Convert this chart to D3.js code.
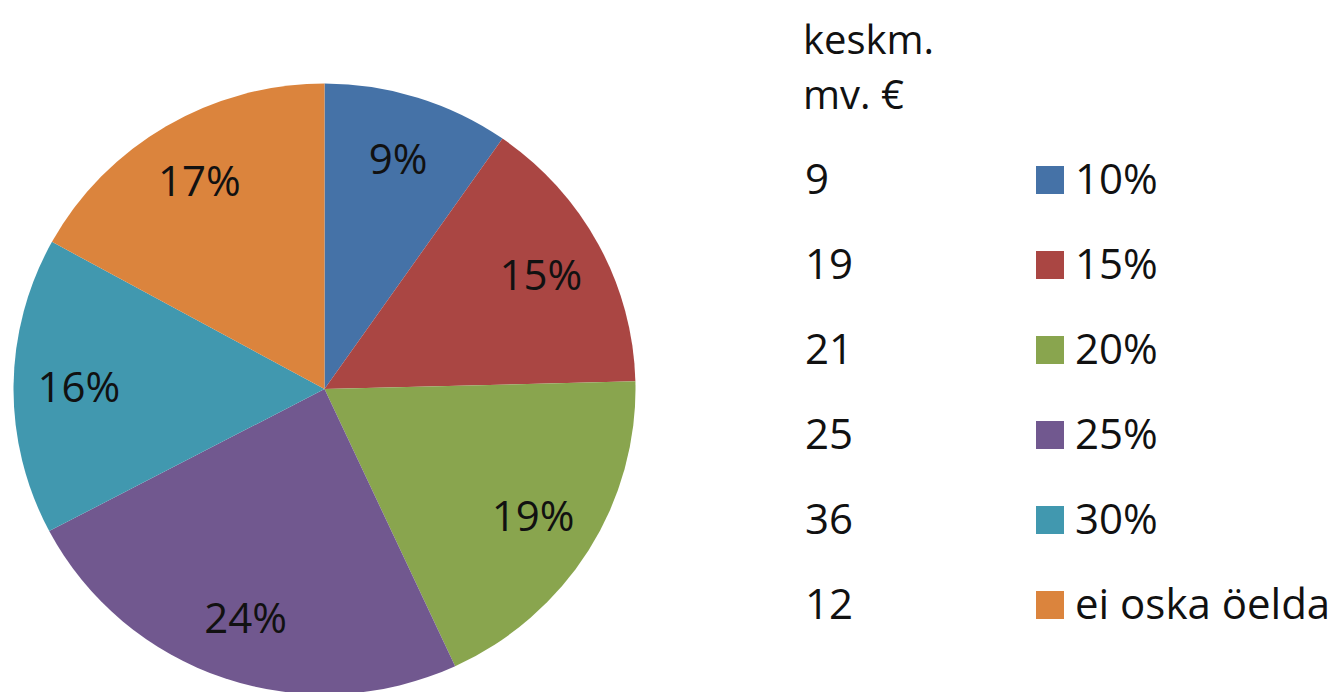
<!DOCTYPE html>
<meta charset="utf-8">
<style>
  body { margin: 0; background: #fff; }
  text { font-family: "Open Sans", sans-serif; fill: #111; font-size: 42px; }
  text.head { font-size: 40px; }
</style>
<svg width="1332" height="692"></svg>
<script src="https://d3js.org/d3.v7.min.js"></script>
<script>

  // slices, clockwise from 12 o'clock (shares)
  var categories = ["10%", "15%", "20%", "25%", "30%", "ei oska öelda"];
  var shares = [9.7, 14.9, 18.5, 24.2, 15.7, 17.0];
  var sliceLabels = ["9%", "15%", "19%", "24%", "16%", "17%"];
  var averages = ["9", "19", "21", "25", "36", "12"];
  var headerLines = ["keskm.", "mv. €"];

  var colors = ["#4572A7", "#AA4643", "#89A54E", "#71588F", "#4198AF", "#DB843D"];

  var svg = d3.select("svg");

  var r = 311;
  var color = d3.scaleOrdinal().domain(categories).range(colors);

  var pie = d3.pie().sort(null).value(function(d) { return d.v; });
  var data = pie(categories.map(function(c, i) {
    return { cat: c, v: shares[i], label: sliceLabels[i] };
  }));

  var arc = d3.arc().innerRadius(0).outerRadius(r);
  var labelArc = d3.arc().innerRadius(r * 0.79).outerRadius(r * 0.79);

  var g = svg.append("g")
    .attr("transform", "translate(324.5,389) scale(1,0.982)");

  g.selectAll("path")
    .data(data)
    .enter().append("path")
    .attr("d", arc)
    .attr("fill", function(d) { return color(d.data.cat); });

  var labels = svg.append("g")
    .attr("transform", "translate(324.5,389)");

  labels.selectAll("text")
    .data(data)
    .enter().append("text")
    .attr("x", function(d) { return labelArc.centroid(d)[0]; })
    .attr("y", function(d) { return labelArc.centroid(d)[1] * 0.982; })
    .attr("dy", "0.36em")
    .attr("text-anchor", "middle")
    .text(function(d) { return d.data.label; });

  // legend with average values column
  var legend = svg.append("g");

  legend.selectAll("text.head")
    .data(headerLines)
    .enter().append("text")
    .attr("class", "head")
    .attr("x", 803)
    .attr("y", function(d, i) { return 54 + i * 55; })
    .text(function(d) { return d; });

  var y = d3.scalePoint().domain(categories).range([179, 604]);

  var row = legend.selectAll("g.row")
    .data(categories)
    .enter().append("g")
    .attr("class", "row")
    .attr("transform", function(d) { return "translate(0," + y(d) + ")"; });

  row.append("text")
    .attr("x", 805)
    .attr("dy", "0.36em")
    .text(function(d, i) { return averages[i]; });

  row.append("rect")
    .attr("x", 1036)
    .attr("y", -13)
    .attr("width", 28)
    .attr("height", 28)
    .attr("fill", function(d) { return color(d); });

  row.append("text")
    .attr("x", 1075)
    .attr("dy", "0.36em")
    .text(function(d) { return d; });

</script>
